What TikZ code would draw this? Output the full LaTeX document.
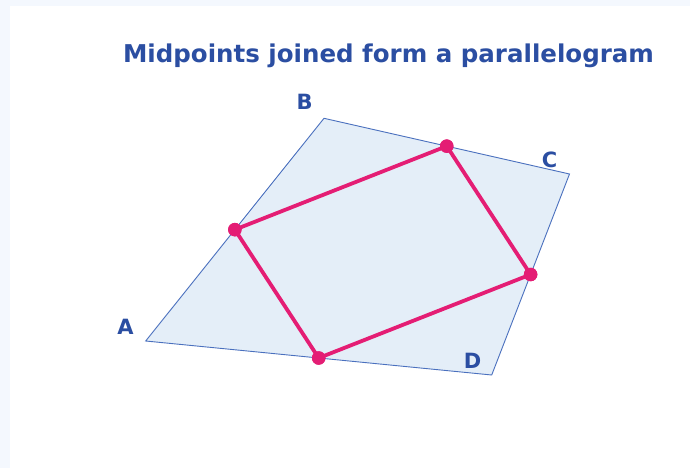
\documentclass[tikz,border=0pt]{standalone}
\usepackage{fontspec}
\setmainfont{DejaVu Sans}
\usetikzlibrary{calc}
\definecolor{bgstrip}{HTML}{F4F8FE}
\definecolor{quadfill}{HTML}{E4EEF8}
\definecolor{quadline}{HTML}{4A70BE}
\definecolor{pinkc}{HTML}{E41D74}
\definecolor{labelc}{HTML}{2B4EA2}
\begin{document}
\begin{tikzpicture}[x=1pt,y=-1pt,
  quadstyle/.style={fill=quadfill,draw=quadline,line width=0.9pt,line join=miter},
  midline/.style={draw=pinkc,line width=3.8pt,line cap=round},
  middot/.style={circle,fill=pinkc,inner sep=0pt,minimum size=13.5pt},
  vlabel/.style={text=labelc,font=\bfseries\fontsize{21}{24}\selectfont,anchor=base,inner sep=0pt},
  titlestyle/.style={text=labelc,font=\bfseries\fontsize{24.5}{29}\selectfont,anchor=base,inner sep=0pt}]
\useasboundingbox (0,0) rectangle (690,468);
\fill[bgstrip] (0,0) rectangle (690,468);
\fill[white] (10,6) rectangle (690,468);
% vertices
\coordinate (A) at (145.7,341);
\coordinate (B) at (324,118.3);
\coordinate (C) at (569.5,174);
\coordinate (D) at (491.7,375);
\draw[quadstyle] (A) -- (B) -- (C) -- (D) -- cycle;
% midpoints
\node[middot] (mAB) at ($(A)!0.5!(B)$) {};
\node[middot] (mBC) at ($(B)!0.5!(C)$) {};
\node[middot] (mCD) at ($(C)!0.5!(D)$) {};
\node[middot] (mDA) at ($(D)!0.5!(A)$) {};
\draw[midline] (mAB.center) -- (mBC.center) -- (mCD.center) -- (mDA.center) -- cycle;
\node[middot] at (mAB) {};
\node[middot] at (mBC) {};
\node[middot] at (mCD) {};
\node[middot] at (mDA) {};
% labels
\node[vlabel] (lA) at (125.5,334) {A};
\node[vlabel] (lB) at (304.5,110) {B};
\node[vlabel] (lC) at (549.5,167) {C};
\node[vlabel] (lD) at (472.5,368) {D};
\node[titlestyle] (title) at (388.5,63) {Midpoints joined form a parallelogram};
\end{tikzpicture}
\end{document}
